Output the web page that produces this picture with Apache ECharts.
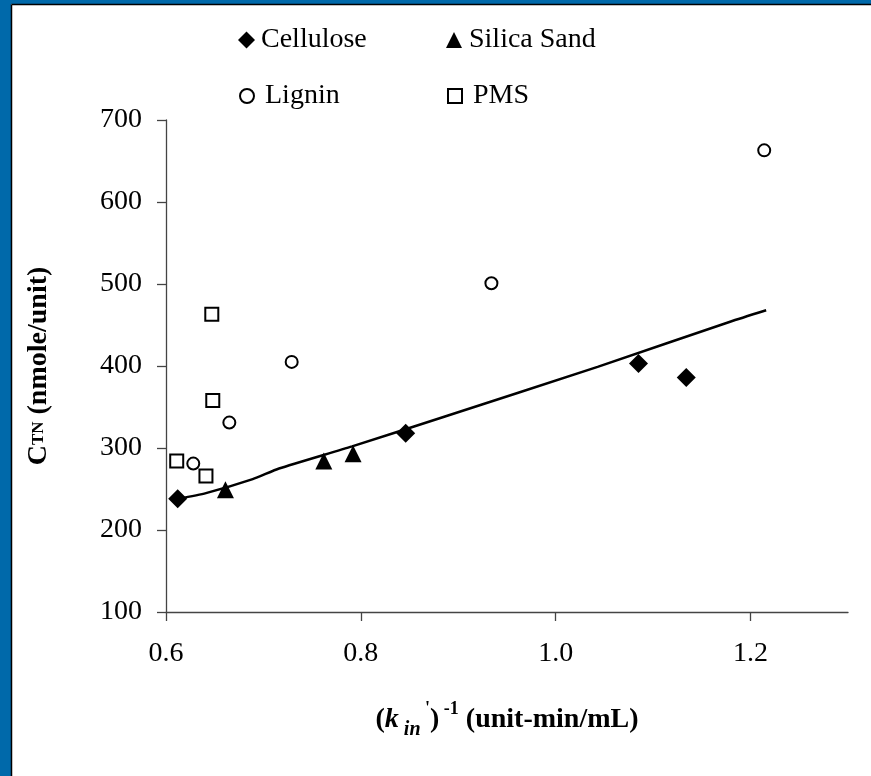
<!DOCTYPE html>
<html>
<head>
<meta charset="utf-8">
<script src="https://cdn.jsdelivr.net/npm/echarts@6/dist/echarts.min.js"></script>
<style>
  html, body { margin: 0; padding: 0; background: #fff; }
  #main { width: 871px; height: 776px; }
</style>
</head>
<body>
<div id="main"></div>
<script>
// data: [x, y]
var cellulose = [[0.612, 238], [0.846, 318], [1.085, 403], [1.134, 386]];
var silicaSand = [[0.661, 249], [0.762, 284], [0.792, 293]];
var lignin = [[0.628, 281], [0.665, 331], [0.729, 405], [0.934, 501], [1.214, 663]];
var pms = [[0.611, 284], [0.641, 266], [0.648, 358], [0.647, 463]];
var fitLine = [[0.612, 238], [0.641, 245], [0.689, 262], [0.716, 275], [0.791, 302],
  [0.880, 336], [1.043, 399], [1.179, 454], [1.216, 468]];
var xTicks = [0.6, 0.8, 1.0, 1.2];

var serif = '"Liberation Serif", "DejaVu Serif", serif';
var chart = echarts.init(document.getElementById('main'));

// one legend component per item so each sits where it does in the picture
function legendAt(name, left, top, size, gap) {
  return {
    data: [name],
    left: left,
    top: top,
    itemWidth: size,
    itemHeight: size,
    textStyle: { fontFamily: serif, fontSize: 28, color: '#000', padding: [0, 0, 0, gap] }
  };
}

var solidStyle = { color: '#000', opacity: 1 };
var openStyle = { color: '#fff', borderColor: '#000', borderWidth: 2, opacity: 1 };

chart.setOption({
  animation: false,
  backgroundColor: '#fff',
  graphic: [
    { type: 'rect', shape: { x: 0, y: 0, width: 11, height: 776 }, style: { fill: '#0069aa' } },
    { type: 'rect', shape: { x: 0, y: 0, width: 871, height: 4 }, style: { fill: '#0069aa' } },
    { type: 'line', shape: { x1: 11.5, y1: 4.5, x2: 11.5, y2: 776 }, style: { stroke: '#000', lineWidth: 1.5 } },
    { type: 'line', shape: { x1: 11.5, y1: 4.5, x2: 871, y2: 4.5 }, style: { stroke: '#000', lineWidth: 1.5 } }
  ],
  legend: [
    legendAt('Cellulose', 233, 21, 17, 1),
    legendAt('Silica Sand', 441, 21, 16, 2),
    legendAt('Lignin', 234, 77, 14, 6),
    legendAt('PMS', 442, 77, 14, 6)
  ],
  grid: { left: 166, top: 120, right: 23, bottom: 164 },
  xAxis: {
    type: 'value',
    min: 0.6,
    max: 1.3,
    interval: 0.2,
    splitLine: { show: false },
    axisLine: { lineStyle: { color: '#444', width: 1.3 } },
    axisTick: { length: 9, customValues: xTicks, lineStyle: { color: '#444', width: 1.3 } },
    axisLabel: {
      customValues: xTicks,
      margin: 28,
      fontFamily: serif,
      fontSize: 28,
      color: '#000',
      formatter: function (v) { return v.toFixed(1); }
    },
    name: '{p|(}{k|k}{sub| in}{sup| \'}{p|)}{sup| -1}{p| (unit-min/mL)}',
    nameLocation: 'middle',
    nameGap: 88,
    nameTextStyle: {
      fontFamily: serif,
      fontWeight: 'bold',
      fontSize: 28,
      color: '#000',
      rich: {
        p: { fontFamily: serif, fontWeight: 'bold', fontSize: 28, lineHeight: 40 },
        k: { fontFamily: serif, fontWeight: 'bold', fontStyle: 'italic', fontSize: 28, lineHeight: 40 },
        sub: { fontFamily: serif, fontWeight: 'bold', fontStyle: 'italic', fontSize: 20, lineHeight: 22, verticalAlign: 'bottom' },
        sup: { fontFamily: serif, fontWeight: 'bold', fontSize: 18, lineHeight: 20, verticalAlign: 'top' }
      }
    }
  },
  yAxis: {
    type: 'value',
    min: 100,
    max: 700,
    interval: 100,
    splitLine: { show: false },
    axisLine: { show: true, lineStyle: { color: '#444', width: 1.3 } },
    axisTick: { show: true, length: 9, lineStyle: { color: '#444', width: 1.3 } },
    axisLabel: { margin: 24, fontFamily: serif, fontSize: 28, color: '#000' },
    name: '{c|C}{s|TN} {c|(nmole/unit)}',
    nameLocation: 'middle',
    nameGap: 110,
    nameTextStyle: {
      fontFamily: serif,
      fontWeight: 'bold',
      fontSize: 28,
      color: '#000',
      rich: {
        c: { fontFamily: serif, fontWeight: 'bold', fontSize: 28, lineHeight: 34 },
        s: { fontFamily: serif, fontSize: 17, lineHeight: 34 }
      }
    }
  },
  series: [
    {
      name: 'fit',
      type: 'line',
      data: fitLine,
      smooth: 0.2,
      showSymbol: false,
      lineStyle: { color: '#000', width: 2.5 },
      z: 1
    },
    {
      name: 'Cellulose',
      type: 'scatter',
      symbol: 'diamond',
      symbolSize: 19,
      data: cellulose,
      itemStyle: solidStyle,
      z: 3
    },
    {
      name: 'Silica Sand',
      type: 'scatter',
      symbol: 'triangle',
      symbolSize: 17,
      data: silicaSand,
      itemStyle: solidStyle,
      z: 3
    },
    {
      name: 'Lignin',
      type: 'scatter',
      symbol: 'circle',
      symbolSize: 12,
      data: lignin,
      itemStyle: openStyle,
      z: 3
    },
    {
      name: 'PMS',
      type: 'scatter',
      symbol: 'rect',
      symbolSize: 13,
      data: pms,
      itemStyle: openStyle,
      z: 3
    }
  ]
});
</script>
</body>
</html>
